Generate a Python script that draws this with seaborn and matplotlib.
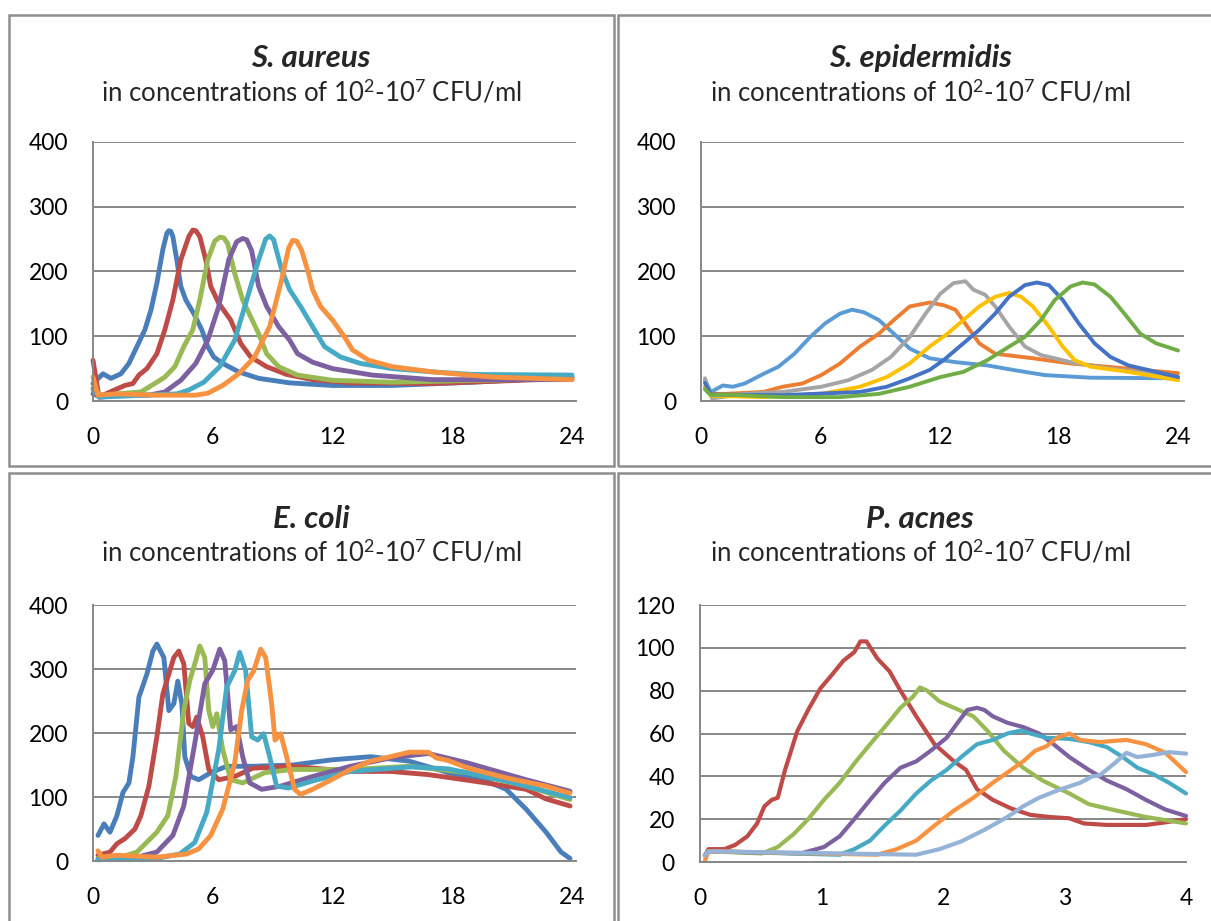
import matplotlib
matplotlib.use("Agg")
import matplotlib.pyplot as plt
from matplotlib.patches import Rectangle
import seaborn as sns
import pandas as pd

# ---------------------------------------------------------------- data
# Optical signal (a.u.) over time (h); one curve per inoculum, 10^7 ... 10^2 CFU/ml
conc_labels = ["10^7", "10^6", "10^5", "10^4", "10^3", "10^2"]

aureus_1e7 = [(0, 27), (0.5, 42), (0.9, 35), (1.4, 42), (1.8, 58), (2.2, 84), (2.6, 110), (2.9, 140),
              (3.2, 182), (3.5, 234), (3.7, 259), (3.8, 263), (3.9, 262), (4.0, 254), (4.2, 218), (4.4, 177),
              (4.65, 156), (5.05, 135), (5.45, 110), (5.75, 84), (6.05, 68), (6.5, 58), (7.3, 45),
              (8.3, 35), (9.85, 28), (12, 24), (15, 24), (19, 29), (24, 37)]
aureus_1e6 = [(0, 63), (0.3, 6), (1.0, 16), (1.6, 24), (2.0, 27), (2.3, 40), (2.7, 50), (3.2, 73),
              (3.6, 110), (4.0, 156), (4.4, 218), (4.8, 254), (5.0, 264), (5.15, 263), (5.35, 254), (5.65, 218),
              (5.9, 177), (6.3, 151), (6.9, 125), (7.4, 89), (7.9, 68), (8.7, 53), (9.7, 41),
              (11, 33), (13, 28), (17, 27), (24, 35)]
aureus_1e5 = [(0, 17), (0.5, 8), (1.2, 11), (2.4, 14), (3.2, 29), (3.6, 37), (4.1, 53), (4.55, 84),
              (5.0, 110), (5.35, 156), (5.75, 218), (6.1, 247), (6.35, 253), (6.55, 252), (6.75, 243), (7.1, 197),
              (7.5, 156), (7.9, 130), (8.3, 104), (8.7, 73), (9.3, 53), (10.25, 40), (12, 32),
              (15, 29), (24, 35)]
aureus_1e4 = [(0, 11), (0.4, 6), (1.2, 9), (2.8, 9), (3.6, 14), (4.4, 32), (5.15, 58), (5.75, 94),
              (6.3, 146), (6.8, 218), (7.2, 246), (7.5, 251), (7.7, 249), (7.95, 232), (8.3, 177), (8.7, 146),
              (9.3, 115), (9.85, 94), (10.25, 73), (11, 60), (12, 50), (14, 40), (17, 33), (24, 33)]
aureus_1e3 = [(0, 20), (0.3, 6), (4.2, 11), (4.8, 17), (5.55, 29), (6.35, 53), (7.1, 94), (7.7, 156),
              (8.3, 218), (8.65, 250), (8.85, 255), (9.05, 249), (9.45, 203), (9.85, 172), (10.4, 146), (11, 115),
              (11.6, 84), (12.4, 68), (13.4, 58), (15, 50), (17, 45), (19, 41), (24, 40)]
aureus_1e2 = [(0, 37), (0.25, 9), (1.2, 11), (3.2, 9), (5.15, 9), (5.75, 12), (6.5, 24), (7.3, 42),
              (8.1, 68), (8.85, 115), (9.45, 187), (9.8, 236), (10.0, 248), (10.2, 247), (10.45, 233), (10.8, 197),
              (11.0, 172), (11.4, 146), (12, 125), (12.6, 99), (13, 79), (13.8, 63), (15, 53),
              (17, 45), (20, 37), (24, 33)]

epid_1e7 = [(0.2, 32), (0.5, 14), (1.1, 24), (1.6, 22), (2.2, 27), (3.15, 42), (3.9, 53), (4.7, 73),
            (5.5, 99), (6.25, 120), (7.0, 135), (7.6, 141), (8.2, 137), (8.95, 125), (9.7, 104),
            (10.5, 81), (11.5, 66), (12.8, 60), (14.4, 55), (15.7, 48), (17.3, 40), (19.6, 36), (24, 35)]
epid_1e6 = [(0.2, 22), (0.5, 11), (1.2, 11), (3.15, 14), (4.1, 22), (5.1, 27), (6.05, 40), (7.0, 58),
            (8.0, 84), (8.95, 104), (9.7, 125), (10.5, 146), (11.5, 152), (12.2, 148), (12.8, 141),
            (13.4, 115), (14.0, 89), (14.8, 73), (16.7, 66), (18.6, 58), (24, 43)]
epid_1e5 = [(0.2, 35), (0.55, 4), (2.2, 11), (4.1, 14), (6.05, 22), (7.4, 32), (8.6, 48), (9.55, 68),
            (10.5, 99), (11.3, 135), (12.05, 166), (12.7, 182), (13.3, 185), (13.7, 172), (14.3, 164),
            (14.8, 146), (15.5, 115), (16.3, 84), (17.1, 71), (18.6, 60), (20.6, 50), (24, 37)]
epid_1e4 = [(0.2, 20), (0.5, 8), (3.15, 6), (6.05, 11), (8.0, 22), (9.35, 37), (10.5, 58), (11.5, 84),
            (12.4, 104), (13.2, 125), (14.0, 146), (14.8, 161), (15.5, 167), (16.1, 161), (16.7, 146),
            (17.5, 115), (18.2, 84), (18.8, 63), (19.6, 53), (21.5, 45), (24, 32)]
epid_1e3 = [(0.2, 28), (0.5, 10), (4.1, 9), (8.0, 14), (9.35, 22), (10.5, 35), (11.5, 48), (12.2, 63),
            (13.2, 89), (14.0, 110), (14.8, 135), (15.5, 161), (16.3, 179), (16.9, 183), (17.5, 179),
            (18.2, 156), (19.0, 120), (19.8, 89), (20.6, 68), (21.5, 55), (22.9, 45), (24, 37)]
epid_1e2 = [(0.2, 18), (0.5, 9), (1.2, 10), (4.1, 6), (7.0, 6), (8.95, 11), (10.5, 22), (12.05, 37),
            (13.2, 45), (14.4, 63), (15.5, 84), (16.3, 99), (17.1, 125), (17.8, 156), (18.6, 177),
            (19.2, 183), (19.8, 180), (20.6, 161), (21.3, 135), (22.1, 104), (22.9, 89), (24, 78)]

coli_1e7 = [(0.25, 40), (0.55, 58), (0.85, 45), (1.2, 71), (1.5, 107), (1.8, 122), (2.0, 163), (2.3, 256),
            (2.7, 292), (3.0, 328), (3.2, 339), (3.55, 318), (3.8, 235), (4.05, 246), (4.25, 281),
            (4.45, 246), (4.6, 163), (4.9, 132), (5.3, 127), (5.9, 138), (6.7, 148), (8, 148), (10, 150),
            (11.95, 158), (13.9, 163), (15.85, 156), (17.8, 138), (19.7, 125), (20.7, 112), (21.7, 81),
            (22.7, 45), (23.45, 14), (23.9, 4)]
coli_1e6 = [(0.25, 9), (0.85, 14), (1.2, 27), (1.6, 35), (2.1, 50), (2.4, 71), (2.8, 117), (3.2, 194),
            (3.5, 261), (3.75, 287), (4.05, 318), (4.3, 328), (4.55, 308), (4.8, 215), (5.0, 210),
            (5.2, 225), (5.5, 194), (5.8, 143), (6.3, 127), (7.1, 132), (8, 145), (10, 148), (12.9, 140),
            (14.9, 140), (16.8, 135), (19.7, 122), (21.7, 112), (22.7, 97), (23.9, 86)]
coli_1e5 = [(0.25, 4), (1.4, 6), (2.2, 14), (3.2, 45), (3.75, 71), (4.15, 132), (4.55, 235), (4.85, 282),
            (5.1, 308), (5.35, 336), (5.6, 318), (5.8, 235), (6.0, 210), (6.2, 230), (6.5, 174),
            (6.9, 127), (7.5, 122), (8.6, 138), (10, 143), (12.9, 143), (15.9, 148), (18.8, 138),
            (21.7, 117), (23.9, 96)]
coli_1e4 = [(0.25, 2), (2.2, 6), (3.2, 14), (4.0, 40), (4.55, 86), (5.1, 184), (5.6, 277), (6.0, 298),
            (6.35, 331), (6.6, 313), (6.9, 205), (7.2, 210), (7.5, 163), (7.85, 122), (8.45, 112),
            (9.4, 117), (11, 132), (12.9, 148), (14.9, 161), (16.8, 168), (18.8, 153), (21.7, 127),
            (23.9, 109)]
coli_1e3 = [(0.25, 2), (3.2, 4), (4.35, 11), (5.1, 29), (5.7, 76), (6.3, 174), (6.7, 272), (7.1, 297),
            (7.35, 326), (7.65, 297), (7.95, 194), (8.25, 189), (8.55, 199), (8.85, 163), (9.2, 117),
            (9.8, 114), (11, 125), (12.9, 140), (15.9, 147), (17.8, 144), (20.7, 125), (23.9, 99)]
coli_1e2 = [(0.25, 16), (0.45, 6), (1.2, 9), (3.2, 6), (4.7, 11), (5.3, 19), (5.9, 40), (6.5, 81),
            (7.1, 153), (7.45, 235), (7.75, 282), (8.05, 297), (8.4, 331), (8.65, 318), (8.95, 246),
            (9.12, 189), (9.4, 199), (9.7, 163), (10.1, 112), (10.4, 104), (11, 112), (11.95, 127),
            (12.9, 143), (13.9, 156), (14.9, 163), (15.85, 170), (16.8, 170), (17.2, 161), (17.8, 157),
            (18.8, 145), (20.7, 130), (22.7, 117), (23.9, 106)]

acnes_1e7 = [(0.04, 3), (0.07, 6), (0.2, 6), (0.29, 8), (0.39, 12), (0.47, 18), (0.53, 26), (0.59, 29),
             (0.64, 30), (0.7, 43), (0.8, 61), (0.89, 71), (0.99, 81), (1.08, 87), (1.18, 94), (1.27, 98),
             (1.32, 103), (1.37, 103), (1.46, 95), (1.56, 89), (1.65, 80), (1.78, 68), (1.93, 55),
             (2.09, 47), (2.19, 43), (2.28, 34), (2.41, 29), (2.56, 25), (2.72, 22), (2.88, 21),
             (3.04, 20.4), (3.16, 18), (3.35, 17.3), (3.67, 17.3), (3.83, 18.5), (4.0, 20)]
acnes_1e6 = [(0.04, 3), (0.07, 5), (0.51, 4), (0.64, 7), (0.77, 13), (0.89, 20), (1.02, 29), (1.15, 37),
             (1.27, 46), (1.4, 55), (1.52, 63), (1.65, 72), (1.75, 77), (1.81, 81.5), (1.87, 80),
             (1.97, 75), (2.09, 72), (2.25, 68), (2.37, 61), (2.5, 52), (2.66, 44), (2.82, 38),
             (3.04, 32), (3.2, 27), (3.35, 25), (3.67, 21), (4.0, 18)]
acnes_1e5 = [(0.04, 3), (0.07, 5), (0.83, 4), (1.02, 7), (1.15, 12), (1.27, 20), (1.4, 29), (1.52, 37),
             (1.65, 44), (1.78, 47), (1.9, 52), (2.03, 58), (2.12, 65), (2.2, 71), (2.28, 72),
             (2.34, 71), (2.41, 68), (2.53, 65), (2.66, 63), (2.79, 60), (2.91, 55), (3.04, 49),
             (3.2, 43), (3.35, 38), (3.51, 34), (3.67, 29), (3.83, 24.5), (4.0, 21.5)]
acnes_1e4 = [(0.04, 3), (0.07, 5), (1.15, 3.4), (1.27, 6), (1.4, 10), (1.52, 17), (1.65, 24), (1.78, 32),
             (1.9, 38), (2.03, 43), (2.15, 49), (2.28, 55), (2.41, 57), (2.53, 60), (2.64, 61.4),
             (2.72, 60), (2.85, 58), (3.04, 57.5), (3.2, 56), (3.35, 53.6), (3.48, 49), (3.6, 44),
             (3.73, 41), (3.86, 37), (4.0, 32)]
acnes_1e3 = [(0.04, 0.5), (0.07, 5), (1.46, 3.4), (1.62, 6), (1.78, 10), (1.93, 17), (2.09, 24),
             (2.25, 30), (2.41, 37), (2.56, 43), (2.66, 47), (2.76, 52), (2.85, 54), (2.94, 58),
             (3.04, 60), (3.13, 57), (3.29, 56), (3.51, 57), (3.67, 55), (3.83, 51), (4.0, 42)]
acnes_1e2 = [(0.04, 3), (0.07, 5), (1.78, 3.4), (1.97, 6), (2.15, 9.6), (2.34, 15), (2.53, 21),
             (2.66, 26), (2.79, 30), (2.97, 34), (3.13, 37), (3.23, 40), (3.29, 40.5), (3.41, 46),
             (3.51, 51), (3.6, 49), (3.73, 50), (3.86, 51.3), (4.0, 50.6)]

palette_2007 = ["#4A7EBB", "#BE4B48", "#98B954", "#7D60A0", "#46AAC5", "#F69240"]
palette_2013 = ["#5B9BD5", "#ED7D31", "#A5A5A5", "#FFC000", "#4472C4", "#70AD47"]
palette_acnes = ["#BE4B48", "#98B954", "#7D60A0", "#46AAC5", "#F69240", "#95B3D7"]

# ---------------------------------------------------------------- style
sns.set_theme(style="white")
plt.rcParams["font.family"] = ["Lato", "DejaVu Sans"]
plt.rcParams["mathtext.fontset"] = "custom"
plt.rcParams["mathtext.rm"] = "Lato"
plt.rcParams["mathtext.it"] = "Lato:italic"
plt.rcParams["mathtext.bf"] = "Lato:bold"

GRID = "#878787"
FRAME = "#8E8E8E"
W, H = 1211, 921
TICK_FS = 16.5

fig = plt.figure(figsize=(W / 100, H / 100), dpi=100)
fig.patch.set_facecolor("white")


def axes_px(left, top, right, bottom):
    return fig.add_axes([left / W, 1 - bottom / H, (right - left) / W, (bottom - top) / H])


def long_frame(series_list):
    rows = []
    for label, pts in zip(conc_labels, series_list):
        for t, v in pts:
            rows.append({"hour": t, "signal": v, "inoculum": label})
    return pd.DataFrame(rows)


def draw_panel(ax, series_list, colors, xlim, xticks, ylim, yticks, lw, ticks_out=False):
    df = long_frame(series_list)
    sns.lineplot(data=df, x="hour", y="signal", hue="inoculum", hue_order=conc_labels,
                 palette=colors, estimator=None, sort=False, legend=False, ax=ax,
                 linewidth=lw, solid_joinstyle="round", solid_capstyle="round")
    ax.set_xlim(*xlim)
    ax.set_ylim(*ylim)
    ax.set_xticks(xticks)
    ax.set_yticks(yticks)
    ax.set_xlabel("")
    ax.set_ylabel("")
    ax.yaxis.grid(True, color=GRID, linewidth=1.4)
    ax.xaxis.grid(False)
    ax.set_axisbelow(True)
    for side in ("top", "right"):
        ax.spines[side].set_visible(False)
    for side in ("left", "bottom"):
        ax.spines[side].set_color(GRID)
        ax.spines[side].set_linewidth(1.4)
    tl = 6 if ticks_out else 0
    ax.tick_params(axis="y", length=tl, width=1.3, color=GRID, pad=18 - tl, labelsize=TICK_FS,
                   labelcolor="black")
    ax.tick_params(axis="x", length=tl, width=1.3, color=GRID, pad=18.5 - tl, labelsize=TICK_FS,
                   labelcolor="black")
    ax.set_facecolor("none")
    for line in ax.get_lines():
        line.set_clip_on(False)


# panel frames
for (x0, y0, x1, y1) in [(9, 15, 614, 466), (618, 15, 1240, 466),
                         (9, 473, 614, 960), (618, 473, 1240, 960)]:
    fig.patches.append(Rectangle((x0 / W, 1 - y1 / H), (x1 - x0) / W, (y1 - y0) / H,
                                 transform=fig.transFigure, fill=False,
                                 edgecolor=FRAME, linewidth=1.8))

subtitle = r"in concentrations of 10$^{2}$-10$^{7}$ CFU/ml"
titles = [("S. aureus", 311, 58, 92), ("S. epidermidis", 920, 58, 92),
          ("E. coli", 311, 519, 552), ("P. acnes", 920, 519, 552)]
for name, cx, ty, sy in titles:
    fig.text(cx / W, 1 - ty / H, name, ha="center", va="center", fontsize=22.5,
             fontweight="bold", fontstyle="italic")
    fig.text(cx / W, 1 - sy / H, subtitle, ha="center", va="center", fontsize=18.5)

hour_ticks = [0, 6, 12, 18, 24]

ax1 = axes_px(93, 142, 576, 401)
draw_panel(ax1, [aureus_1e7, aureus_1e6, aureus_1e5, aureus_1e4, aureus_1e3, aureus_1e2],
           palette_2007, (0, 24.2), hour_ticks, (0, 400), [0, 100, 200, 300, 400], 3.5)

ax2 = axes_px(701, 142, 1184, 401)
draw_panel(ax2, [epid_1e7, epid_1e6, epid_1e5, epid_1e4, epid_1e3, epid_1e2],
           palette_2013, (0, 24.3), hour_ticks, (0, 400), [0, 100, 200, 300, 400], 2.8)

ax3 = axes_px(93, 605, 576, 861)
draw_panel(ax3, [coli_1e7, coli_1e6, coli_1e5, coli_1e4, coli_1e3, coli_1e2],
           palette_2007, (0, 24.2), hour_ticks, (0, 400), [0, 100, 200, 300, 400], 3.5)

ax4 = axes_px(700, 605, 1186, 862)
draw_panel(ax4, [acnes_1e7, acnes_1e6, acnes_1e5, acnes_1e4, acnes_1e3, acnes_1e2],
           palette_acnes, (0, 4), [0, 1, 2, 3, 4], (0, 120), [0, 20, 40, 60, 80, 100, 120], 3.0,
           ticks_out=True)

fig.savefig("out.png", dpi=100, facecolor="white")
